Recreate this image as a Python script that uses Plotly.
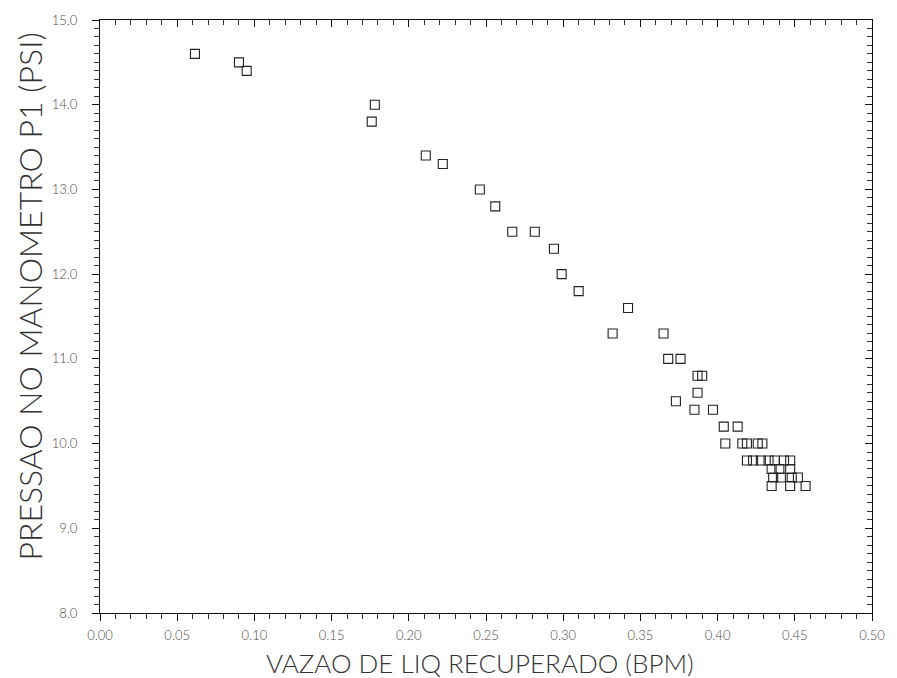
import plotly.graph_objects as go

# Data
vazao_bpm = [0.0615, 0.090, 0.095, 0.176, 0.178, 0.211, 0.222, 0.246, 0.256,
             0.267, 0.2816, 0.294, 0.299, 0.310, 0.342, 0.332, 0.365,
             0.368, 0.376, 0.387, 0.390, 0.387, 0.373, 0.385, 0.397,
             0.404, 0.413, 0.405, 0.416, 0.419, 0.426, 0.429,
             0.419, 0.423, 0.428, 0.433, 0.437, 0.443, 0.447,
             0.435, 0.440, 0.447,
             0.436, 0.441, 0.448, 0.452,
             0.435, 0.447, 0.457]
pressao_psi = [14.6, 14.5, 14.4, 13.8, 14.0, 13.4, 13.3, 13.0, 12.8,
               12.5, 12.5, 12.3, 12.0, 11.8, 11.6, 11.3, 11.3,
               11.0, 11.0, 10.8, 10.8, 10.6, 10.5, 10.4, 10.4,
               10.2, 10.2, 10.0, 10.0, 10.0, 10.0, 10.0,
               9.8, 9.8, 9.8, 9.8, 9.8, 9.8, 9.8,
               9.7, 9.7, 9.7,
               9.6, 9.6, 9.6, 9.6,
               9.5, 9.5, 9.5]

x_range = [0.0, 0.5]
y_range = [8.0, 15.0]
x_title = "VAZAO DE LIQ RECUPERADO (BPM)"
y_title = "PRESSAO NO MANOMETRO P1 (PSI)"

FONT = "Lato"
INK = "#222222"
LABEL = "#4a4a4a"

fig = go.Figure()
fig.add_trace(go.Scatter(
    x=vazao_bpm, y=pressao_psi, mode="markers",
    marker=dict(symbol="square-open", size=9, color=INK, line=dict(width=1.1, color=INK)),
    showlegend=False, hoverinfo="x+y"))
# invisible trace so the top/right overlay axes get drawn
fig.add_trace(go.Scatter(x=[None], y=[None], xaxis="x2", yaxis="y2",
                         showlegend=False, hoverinfo="skip"))

axis_common = dict(showgrid=False, zeroline=False, showline=True,
                   linecolor="#111111", linewidth=1.2, tickcolor="#111111", tickwidth=1)

fig.update_layout(
    width=897, height=678,
    margin=dict(l=100, r=15, t=15, b=65),
    paper_bgcolor="white", plot_bgcolor="white",
    font=dict(family=FONT, color=LABEL, weight=300),
    xaxis=dict(range=x_range, dtick=0.05, tick0=0, tickformat=".2f",
               ticks="outside", ticklen=7, ticklabelstandoff=3,
               tickfont=dict(size=13, color=LABEL, family=FONT, weight=300),
               minor=dict(dtick=0.01, ticks="outside", ticklen=5, tickcolor="#333333"),
               **axis_common),
    yaxis=dict(range=y_range, dtick=1, tick0=8, tickformat=".1f",
               ticks="outside", ticklen=7, ticklabelstandoff=12,
               tickfont=dict(size=13, color=LABEL, family=FONT, weight=300),
               minor=dict(dtick=0.1, ticks="outside", ticklen=5, tickcolor="#333333"),
               **axis_common),
    xaxis2=dict(range=x_range, overlaying="x", side="top", anchor="y2",
                dtick=0.05, tick0=0, showticklabels=False,
                ticks="inside", ticklen=7,
                minor=dict(dtick=0.01, ticks="inside", ticklen=5, tickcolor="#333333"),
                **axis_common),
    yaxis2=dict(range=y_range, overlaying="y", side="right", anchor="x2",
                dtick=1, tick0=8, showticklabels=False,
                ticks="inside", ticklen=7,
                minor=dict(dtick=0.1, ticks="inside", ticklen=5, tickcolor="#333333"),
                **axis_common),
    annotations=[
        dict(text=x_title, xref="paper", yref="paper", x=0.492, y=-0.0835,
             xanchor="center", yanchor="middle", showarrow=False,
             font=dict(size=26, color="#333333", family=FONT, weight=300)),
        dict(text=y_title, xref="paper", yref="paper", x=-0.0908, y=0.5335,
             xanchor="center", yanchor="middle", showarrow=False, textangle=-90,
             font=dict(size=32, color="#333333", family=FONT, weight=300)),
    ],
)

fig.write_html("out.html")
